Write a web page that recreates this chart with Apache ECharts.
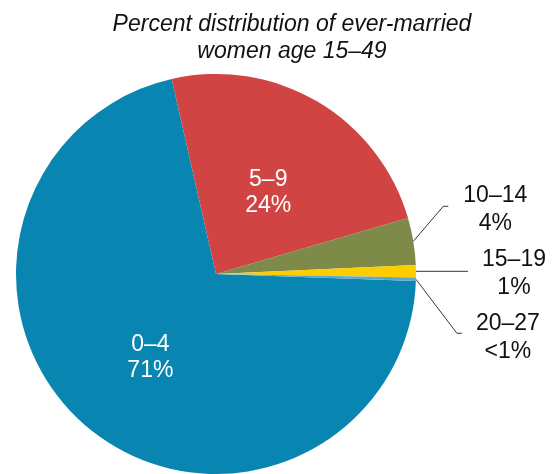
<!DOCTYPE html>
<html><head><meta charset="utf-8">
<script src="https://cdn.jsdelivr.net/npm/echarts@6/dist/echarts.min.js"></script>
<style>html,body{margin:0;padding:0;background:#fff}#c{width:552px;height:474px}</style>
</head><body><div id="c"></div>
<script>
// ---- data ----
const categories = ['0–4', '5–9', '10–14', '15–19', '20–27'];
const values = [70.9, 24.05, 3.8, 1.0, 0.27];
const percentLabels = ['71%', '24%', '4%', '1%', '<1%'];
const colors = ['#0886B1', '#D04444', '#7E8A47', '#FFCC00', '#5CA8D0'];
const titleLines = ['Percent distribution of ever-married', 'women age 15–49'];

// ---- layout / style ----
const CX = 216, CY = 274, R = 200, START = 358;
const FONT = 'Liberation Sans, Arial, sans-serif';
// inner label nudges
const innerDy = { 0: 4, 1: 7 };
// outer label guide offsets relative to the slice's edge point
const outer = {
  2: { bend: [30, -35], end: [35, -35], label: [82, -32] },
  3: { bend: [26, 0], end: [52, 0], label: [98, 2] },
  4: { bend: [41, 54], end: [46, 54], label: [92, 58] }
};

const total = values.reduce((a, b) => a + b, 0);
function edgePoint(i) {
  let cum = 0;
  for (let k = 0; k < i; k++) cum += values[k];
  const a = (START - (cum + values[i] / 2) / total * 360) * Math.PI / 180;
  return [CX + R * Math.cos(a), CY - R * Math.sin(a)];
}

const data = categories.map((c, i) => {
  const inside = !outer[i];
  return {
    name: c,
    value: values[i],
    itemStyle: { color: colors[i] },
    label: inside
      ? { position: 'inside', color: '#ffffff', lineHeight: 26 }
      : { position: 'outside', color: '#111111', lineHeight: 28 },
    labelLine: { show: !inside }
  };
});

const chart = echarts.init(document.getElementById('c'), null, { renderer: 'canvas' });
chart.setOption({
  animation: false,
  graphic: [{
    type: 'text',
    x: 292, y: 11,
    style: {
      text: titleLines.join('\n'),
      fontFamily: FONT, fontSize: 23, fontStyle: 'italic',
      lineHeight: 27, fill: '#111111',
      align: 'center', verticalAlign: 'top'
    }
  }],
  series: [{
    type: 'pie',
    center: [CX, CY],
    radius: R,
    startAngle: START,
    clockwise: true,
    avoidLabelOverlap: false,
    silent: true,
    itemStyle: { borderWidth: 0 },
    label: {
      fontFamily: FONT, fontSize: 23,
      formatter: p => categories[p.dataIndex] + '\n' + percentLabels[p.dataIndex]
    },
    labelLine: { lineStyle: { color: '#333333', width: 1 } },
    labelLayout: function (p) {
      const o = outer[p.dataIndex];
      if (!o) return { dy: innerDy[p.dataIndex] || 0 };
      const a = edgePoint(p.dataIndex);
      return {
        x: a[0] + o.label[0], y: a[1] + o.label[1],
        align: 'center', verticalAlign: 'middle',
        labelLinePoints: [a, [a[0] + o.bend[0], a[1] + o.bend[1]], [a[0] + o.end[0], a[1] + o.end[1]]]
      };
    },
    data: data
  }]
});
</script>
</body></html>
